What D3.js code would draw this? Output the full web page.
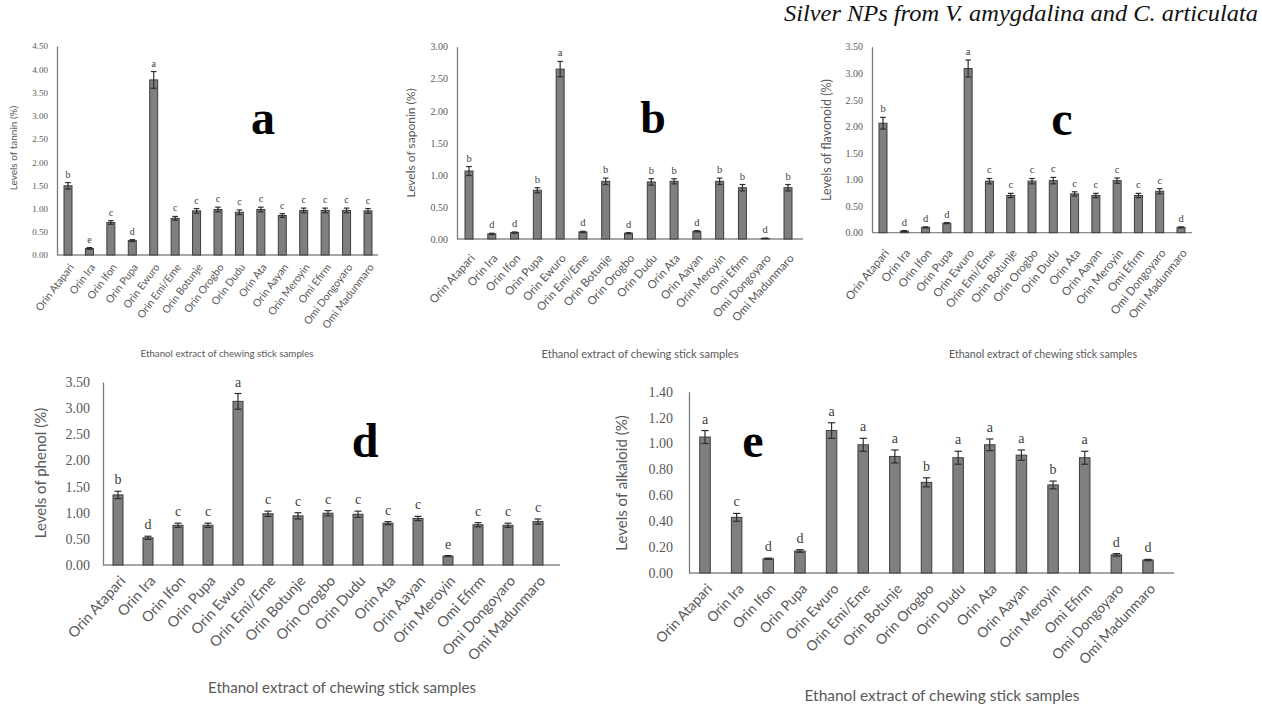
<!DOCTYPE html>
<html>
<head>
<meta charset="utf-8">
<script src="https://cdn.jsdelivr.net/npm/d3@7"></script>
<style>
  body { margin: 0; background: #ffffff; }
  svg { display: block; }
</style>
</head>
<body>
<svg id="fig" width="1262" height="704"></svg>
<script>
// Chewing stick samples (ethanol extracts)
const categories = ["Orin Atapari", "Orin Ira", "Orin Ifon", "Orin Pupa", "Orin Ewuro",
  "Orin Emi/Eme", "Orin Botunje", "Orin Orogbo", "Orin Dudu", "Orin Ata", "Orin Aayan",
  "Orin Meroyin", "Omi Efirm", "Omi Dongoyaro", "Omi Madunmaro"];

// (a) tannin
const tannin       = [1.49, 0.14, 0.70, 0.31, 3.77, 0.79, 0.95, 0.98, 0.92, 0.98, 0.85, 0.96, 0.96, 0.96, 0.95];
const tanninErr    = [0.07, 0.02, 0.04, 0.02, 0.18, 0.04, 0.05, 0.05, 0.05, 0.05, 0.04, 0.05, 0.05, 0.05, 0.05];
const tanninGroups = ["b", "e", "c", "d", "a", "c", "c", "c", "c", "c", "c", "c", "c", "c", "c"];
const tanninTicks  = [0, 0.5, 1, 1.5, 2, 2.5, 3, 3.5, 4, 4.5];

// (b) saponin
const saponin       = [1.06, 0.08, 0.10, 0.76, 2.65, 0.11, 0.90, 0.09, 0.89, 0.90, 0.12, 0.90, 0.80, 0.01, 0.80];
const saponinErr    = [0.07, 0.01, 0.01, 0.04, 0.12, 0.01, 0.05, 0.01, 0.05, 0.04, 0.01, 0.05, 0.05, 0.00, 0.05];
const saponinGroups = ["b", "d", "d", "b", "a", "d", "b", "d", "b", "b", "d", "b", "b", "d", "b"];
const saponinTicks  = [0, 0.5, 1, 1.5, 2, 2.5, 3];

// (c) flavonoid
const flavonoid       = [2.06, 0.03, 0.10, 0.18, 3.09, 0.97, 0.70, 0.97, 0.98, 0.73, 0.70, 0.98, 0.70, 0.78, 0.10];
const flavonoidErr    = [0.11, 0.01, 0.01, 0.01, 0.16, 0.05, 0.04, 0.05, 0.06, 0.04, 0.04, 0.05, 0.04, 0.05, 0.01];
const flavonoidGroups = ["b", "d", "d", "d", "a", "c", "c", "c", "c", "c", "c", "c", "c", "c", "d"];
const flavonoidTicks  = [0, 0.5, 1, 1.5, 2, 2.5, 3, 3.5];

// (d) phenol
const phenol       = [1.34, 0.52, 0.76, 0.76, 3.13, 0.98, 0.94, 0.99, 0.97, 0.80, 0.89, 0.17, 0.77, 0.76, 0.83];
const phenolErr    = [0.07, 0.03, 0.04, 0.04, 0.15, 0.05, 0.06, 0.05, 0.06, 0.03, 0.04, 0.01, 0.04, 0.04, 0.05];
const phenolGroups = ["b", "d", "c", "c", "a", "c", "c", "c", "c", "c", "c", "e", "c", "c", "c"];
const phenolTicks  = [0, 0.5, 1, 1.5, 2, 2.5, 3, 3.5];

// (e) alkaloid
const alkaloid       = [1.05, 0.43, 0.11, 0.17, 1.10, 0.99, 0.90, 0.70, 0.89, 0.99, 0.91, 0.68, 0.89, 0.14, 0.10];
const alkaloidErr    = [0.05, 0.03, 0.005, 0.01, 0.06, 0.05, 0.05, 0.035, 0.05, 0.045, 0.04, 0.03, 0.05, 0.01, 0.005];
const alkaloidGroups = ["a", "c", "d", "d", "a", "a", "a", "b", "a", "a", "a", "b", "a", "d", "d"];
const alkaloidTicks  = [0, 0.2, 0.4, 0.6, 0.8, 1.0, 1.2, 1.4];

const xTitle = "Ethanol extract of chewing stick samples";
const headerText = "Silver NPs from V. amygdalina and C. articulata";

const SANS = "Lato, 'Open Sans', sans-serif";
const SERIF = "'Liberation Serif', 'Times New Roman', serif";

const svg = d3.select("#fig");

svg.append("text")
  .attr("x", 1258).attr("y", 21)
  .attr("text-anchor", "end")
  .attr("font-family", SERIF).attr("font-style", "italic")
  .attr("font-size", 23).attr("fill", "#111")
  .attr("textLength", 474).attr("lengthAdjust", "spacingAndGlyphs")
  .text(headerText);

const panels = [
  { tag: "a", values: tannin, errors: tanninErr, groups: tanninGroups, ticks: tanninTicks,
    yTitle: "Levels of tannin (%)",
    lay: { left: 57, right: 378, top: 46, base: 255, c0: 68, c1: 368, bw: 8,
           tickFont: 9, tickPad: 9, catFont: 10.5, catRot: -53, catDx: 3, catDy: 10,
           yTitleX: 17, yTitleY: 148, yTitleFont: 10,
           titleX: 227, titleY: 357, titleFont: 10, titleLen: 173,
           groupFont: 10, groupGap: 5, bigX: 263, bigY: 134, bigFont: 48 } },
  { tag: "b", values: saponin, errors: saponinErr, groups: saponinGroups, ticks: saponinTicks,
    yTitle: "Levels of saponin (%)",
    lay: { left: 457, right: 803, top: 46.7, base: 239, c0: 469, c1: 788, bw: 8,
           tickFont: 10, tickPad: 9, catFont: 11.5, catRot: -48, catDx: 3, catDy: 17,
           yTitleX: 415, yTitleY: 143, yTitleFont: 12,
           titleX: 640, titleY: 358, titleFont: 12, titleLen: 197,
           groupFont: 10.5, groupGap: 5, bigX: 653, bigY: 133, bigFont: 46 } },
  { tag: "c", values: flavonoid, errors: flavonoidErr, groups: flavonoidGroups, ticks: flavonoidTicks,
    yTitle: "Levels of flavonoid (%)",
    lay: { left: 872, right: 1192, top: 46.7, base: 232.7, c0: 883, c1: 1181, bw: 8,
           tickFont: 10, tickPad: 9, catFont: 11.5, catRot: -51, catDx: 3, catDy: 18,
           yTitleX: 831, yTitleY: 140, yTitleFont: 12.5,
           titleX: 1043, titleY: 358, titleFont: 12, titleLen: 188,
           groupFont: 10.5, groupGap: 5, bigX: 1062, bigY: 135, bigFont: 48 } },
  { tag: "d", values: phenol, errors: phenolErr, groups: phenolGroups, ticks: phenolTicks,
    yTitle: "Levels of phenol (%)",
    lay: { left: 103, right: 560, top: 382, base: 565, c0: 118, c1: 538, bw: 10,
           tickFont: 14, tickPad: 13, catFont: 14.5, catRot: -48, catDx: 4, catDy: 13,
           yTitleX: 46, yTitleY: 473, yTitleFont: 15,
           titleX: 342, titleY: 693, titleFont: 15, titleLen: 268,
           groupFont: 14, groupGap: 7, bigX: 365, bigY: 457, bigFont: 48 } },
  { tag: "e", values: alkaloid, errors: alkaloidErr, groups: alkaloidGroups, ticks: alkaloidTicks,
    yTitle: "Levels of alkaloid (%)",
    lay: { left: 689, right: 1174, top: 391.7, base: 573, c0: 705, c1: 1148, bw: 10.5,
           tickFont: 14, tickPad: 16, catFont: 14, catRot: -47, catDx: 4, catDy: 13,
           yTitleX: 627, yTitleY: 483, yTitleFont: 15,
           titleX: 942, titleY: 701, titleFont: 15, titleLen: 275,
           groupFont: 14, groupGap: 7, bigX: 753, bigY: 457, bigFont: 48 } }
];

function drawPanel(p) {
  const L = p.lay;
  const g = svg.append("g").attr("class", "panel panel-" + p.tag);

  const y = d3.scaleLinear().domain([0, d3.max(p.ticks)]).range([L.base, L.top]);
  const x = d3.scalePoint().domain(categories).range([L.c0, L.c1]);

  // value axis
  const yAxis = g.append("g")
    .attr("transform", `translate(${L.left},0)`)
    .call(d3.axisLeft(y).tickValues(p.ticks).tickFormat(d3.format(".2f"))
      .tickSize(0).tickSizeOuter(0).tickPadding(L.tickPad));
  yAxis.select(".domain").attr("stroke", "#7a7a7a").attr("stroke-width", 1.3);
  yAxis.selectAll("text")
    .attr("font-family", SERIF).attr("font-size", L.tickFont).attr("fill", "#595959");

  // category axis (line plus rotated labels)
  g.append("line")
    .attr("x1", L.left).attr("x2", L.right)
    .attr("y1", L.base).attr("y2", L.base)
    .attr("stroke", "#8a8a8a").attr("stroke-width", 1.3);
  const xAxis = g.append("g")
    .attr("transform", `translate(0,${L.base})`)
    .call(d3.axisBottom(x).tickSize(0).tickSizeOuter(0));
  xAxis.select(".domain").remove();
  xAxis.selectAll("text")
    .attr("font-family", SANS).attr("font-size", L.catFont).attr("fill", "#595959")
    .attr("text-anchor", "end")
    .attr("x", 0).attr("y", 0).attr("dy", "0.35em")
    .attr("transform", `translate(${L.catDx},${L.catDy}) rotate(${L.catRot})`);

  const rows = categories.map((c, i) => ({ c, v: p.values[i], e: p.errors[i], grp: p.groups[i] }));

  // bars
  g.append("g").selectAll("rect").data(rows).join("rect")
    .attr("x", d => x(d.c) - L.bw / 2)
    .attr("y", d => y(d.v))
    .attr("width", L.bw)
    .attr("height", d => y(0) - y(d.v))
    .attr("fill", "#7f7f7f")
    .attr("stroke", "#3d3d3d")
    .attr("stroke-width", 1);

  // error bars
  const cap = L.bw * 0.35;
  const eb = g.append("g").attr("stroke", "#2e2e2e").attr("stroke-width", 1.2);
  eb.selectAll("line.stem").data(rows).join("line").attr("class", "stem")
    .attr("x1", d => x(d.c)).attr("x2", d => x(d.c))
    .attr("y1", d => y(d.v + d.e)).attr("y2", d => y(Math.max(0, d.v - d.e)));
  eb.selectAll("line.capTop").data(rows).join("line").attr("class", "capTop")
    .attr("x1", d => x(d.c) - cap).attr("x2", d => x(d.c) + cap)
    .attr("y1", d => y(d.v + d.e)).attr("y2", d => y(d.v + d.e));
  eb.selectAll("line.capBot").data(rows).join("line").attr("class", "capBot")
    .attr("x1", d => x(d.c) - cap).attr("x2", d => x(d.c) + cap)
    .attr("y1", d => y(Math.max(0, d.v - d.e))).attr("y2", d => y(Math.max(0, d.v - d.e)));

  // significance letters
  g.append("g").selectAll("text").data(rows).join("text")
    .attr("x", d => x(d.c))
    .attr("y", d => y(d.v + d.e) - L.groupGap)
    .attr("text-anchor", "middle")
    .attr("font-family", SERIF).attr("font-size", L.groupFont).attr("fill", "#404040")
    .text(d => d.grp);

  // axis titles
  g.append("text")
    .attr("transform", `translate(${L.yTitleX},${L.yTitleY}) rotate(-90)`)
    .attr("text-anchor", "middle")
    .attr("font-family", SANS).attr("font-size", L.yTitleFont).attr("fill", "#595959")
    .text(p.yTitle);
  g.append("text")
    .attr("x", L.titleX).attr("y", L.titleY)
    .attr("text-anchor", "middle")
    .attr("font-family", SANS).attr("font-size", L.titleFont).attr("fill", "#595959")
    .attr("textLength", L.titleLen).attr("lengthAdjust", "spacingAndGlyphs")
    .text(xTitle);

  // panel tag
  g.append("text")
    .attr("x", L.bigX).attr("y", L.bigY)
    .attr("text-anchor", "middle")
    .attr("font-family", SERIF).attr("font-weight", "bold")
    .attr("font-size", L.bigFont).attr("fill", "#000")
    .text(p.tag);
}

panels.forEach(drawPanel);
</script>
</body>
</html>
